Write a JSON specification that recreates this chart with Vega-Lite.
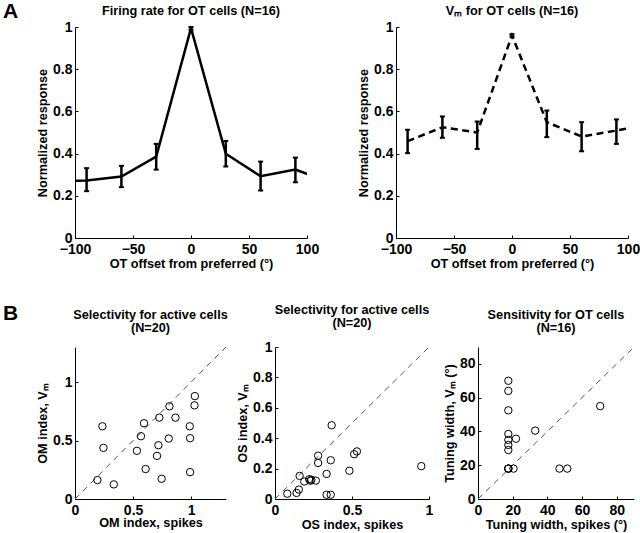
{
  "$schema": "https://vega.github.io/schema/vega-lite/v6.json",
  "padding": {"left": 3, "top": 1, "right": 5, "bottom": 5},
  "background": "white",
  "config": {
    "font": "Liberation Sans",
    "view": {"stroke": null},
    "axis": {
      "grid": false, "domainColor": "black", "domainWidth": 1,
      "tickColor": "black", "tickSize": -3, "tickWidth": 1,
      "labelFont": "Liberation Sans", "labelFontSize": 14, "labelFontWeight": "bold", "labelColor": "black", "labelPadding": 7,
      "labelOverlap": false, "labelFlush": false, "labelBound": false, "labelSeparation": -30,
      "titleFont": "Liberation Sans", "titleFontSize": 12.7, "titleFontWeight": "bold", "titleColor": "black", "titlePadding": 3
    },
    "axisX": {"labelPadding": 7, "titlePadding": 1},
    "axisY": {"labelPadding": 6},
    "title": {"font": "Liberation Sans", "fontSize": 12.7, "fontWeight": "bold", "color": "black", "offset": 2}
  },
  "datasets": {
    "frLine": [
      {"x": -120, "y": 0.27}, {"x": -90, "y": 0.272}, {"x": -60, "y": 0.291}, {"x": -30, "y": 0.386},
      {"x": 0, "y": 0.995}, {"x": 30, "y": 0.399}, {"x": 60, "y": 0.293}, {"x": 90, "y": 0.324}, {"x": 120, "y": 0.264}
    ],
    "frErr": [
      {"x": -90, "lo": 0.222, "hi": 0.331}, {"x": -60, "lo": 0.241, "hi": 0.342}, {"x": -30, "lo": 0.324, "hi": 0.446},
      {"x": 0, "lo": 0.987, "hi": 1.0}, {"x": 30, "lo": 0.339, "hi": 0.46}, {"x": 60, "lo": 0.225, "hi": 0.362},
      {"x": 90, "lo": 0.264, "hi": 0.381}
    ],
    "vmLine": [
      {"x": -90, "y": 0.459}, {"x": -60, "y": 0.525}, {"x": -30, "y": 0.5}, {"x": 0, "y": 0.96},
      {"x": 30, "y": 0.549}, {"x": 60, "y": 0.481}, {"x": 90, "y": 0.509}, {"x": 120, "y": 0.54}
    ],
    "vmErr": [
      {"x": -90, "lo": 0.402, "hi": 0.513}, {"x": -60, "lo": 0.475, "hi": 0.576}, {"x": -30, "lo": 0.422, "hi": 0.552},
      {"x": 0, "lo": 0.955, "hi": 0.966}, {"x": 30, "lo": 0.478, "hi": 0.604}, {"x": 60, "lo": 0.411, "hi": 0.549},
      {"x": 90, "lo": 0.446, "hi": 0.562}
    ],
    "om": [
      {"x": 0.236, "y": 0.622}, {"x": 0.245, "y": 0.437}, {"x": 0.193, "y": 0.162}, {"x": 0.334, "y": 0.125},
      {"x": 0.594, "y": 0.648}, {"x": 0.568, "y": 0.537}, {"x": 0.533, "y": 0.412}, {"x": 0.608, "y": 0.256},
      {"x": 0.726, "y": 0.696}, {"x": 0.718, "y": 0.46}, {"x": 0.706, "y": 0.369}, {"x": 0.746, "y": 0.173},
      {"x": 0.813, "y": 0.793}, {"x": 0.807, "y": 0.517}, {"x": 0.865, "y": 0.696}, {"x": 0.988, "y": 0.622},
      {"x": 0.991, "y": 0.52}, {"x": 0.991, "y": 0.23}, {"x": 1.032, "y": 0.88}, {"x": 1.029, "y": 0.801}
    ],
    "os": [
      {"x": 0.08, "y": 0.035}, {"x": 0.14, "y": 0.04}, {"x": 0.155, "y": 0.062}, {"x": 0.16, "y": 0.152},
      {"x": 0.19, "y": 0.115}, {"x": 0.222, "y": 0.13}, {"x": 0.236, "y": 0.127}, {"x": 0.265, "y": 0.121},
      {"x": 0.28, "y": 0.285}, {"x": 0.28, "y": 0.237}, {"x": 0.335, "y": 0.165}, {"x": 0.335, "y": 0.028},
      {"x": 0.362, "y": 0.255}, {"x": 0.368, "y": 0.485}, {"x": 0.362, "y": 0.028}, {"x": 0.483, "y": 0.186},
      {"x": 0.514, "y": 0.295}, {"x": 0.532, "y": 0.313}, {"x": 0.95, "y": 0.216}, {"x": 0.23, "y": 0.12}
    ],
    "tw": [
      {"x": 17.5, "y": 70}, {"x": 17.5, "y": 64}, {"x": 17.5, "y": 52.5}, {"x": 17.5, "y": 38.5},
      {"x": 17.5, "y": 35}, {"x": 17.5, "y": 32}, {"x": 17.5, "y": 29}, {"x": 17.5, "y": 18},
      {"x": 17.5, "y": 18}, {"x": 17.5, "y": 18}, {"x": 20.5, "y": 18}, {"x": 21.9, "y": 35.7},
      {"x": 33, "y": 40.5}, {"x": 47, "y": 18}, {"x": 51.5, "y": 18}, {"x": 70.5, "y": 55}
    ]
  },
  "bounds": "flush",
  "spacing": 320,
  "vconcat": [
    {
      "title": {"text": "A", "anchor": "start", "frame": "group", "fontSize": 21, "dx": -72, "dy": 17, "offset": 0},
      "bounds": "flush",
      "spacing": 89,
      "hconcat": [
        {
          "width": 232, "height": 211,
          "title": {"text": "Firing rate for OT cells (N=16)"},
          "layer": [
            {
              "data": {"name": "frLine"},
              "mark": {"type": "line", "color": "black", "strokeWidth": 2.5, "clip": true},
              "encoding": {
                "x": {"field": "x", "type": "quantitative", "scale": {"domain": [-100, 100]}, "axis": {"values": [-100, -50, 0, 50, 100], "labelOverlap": false, "title": "OT offset from preferred (°)"}},
                "y": {"field": "y", "type": "quantitative", "scale": {"domain": [0, 1]}, "axis": {"values": [0, 0.2, 0.4, 0.6, 0.8, 1], "labelOverlap": false, "format": "~g", "title": "Normalized response"}}
              }
            },
            {
              "data": {"name": "frErr"},
              "mark": {"type": "rule", "color": "black", "strokeWidth": 2.5},
              "encoding": {
                "x": {"field": "x", "type": "quantitative"},
                "y": {"field": "lo", "type": "quantitative"},
                "y2": {"field": "hi"}
              }
            },
            {
              "data": {"name": "frErr"},
              "mark": {"type": "tick", "color": "black", "size": 5, "thickness": 2, "orient": "horizontal", "opacity": 1},
              "encoding": {"x": {"field": "x", "type": "quantitative"}, "y": {"field": "lo", "type": "quantitative"}}
            },
            {
              "data": {"name": "frErr"},
              "mark": {"type": "tick", "color": "black", "size": 5, "thickness": 2, "orient": "horizontal", "opacity": 1},
              "encoding": {"x": {"field": "x", "type": "quantitative"}, "y": {"field": "hi", "type": "quantitative"}}
            }
          ]
        },
        {
          "width": 232, "height": 211,
          "title": {"text": "Vₘ for OT cells (N=16)"},
          "layer": [
            {
              "data": {"name": "vmLine"},
              "mark": {"type": "line", "color": "black", "strokeWidth": 2.5, "strokeDash": [7, 4.5], "clip": true},
              "encoding": {
                "x": {"field": "x", "type": "quantitative", "scale": {"domain": [-100, 100]}, "axis": {"values": [-100, -50, 0, 50, 100], "labelOverlap": false, "title": "OT offset from preferred (°)"}},
                "y": {"field": "y", "type": "quantitative", "scale": {"domain": [0, 1]}, "axis": {"values": [0, 0.2, 0.4, 0.6, 0.8, 1], "labelOverlap": false, "format": "~g", "title": "Normalized response"}}
              }
            },
            {
              "data": {"name": "vmErr"},
              "mark": {"type": "rule", "color": "black", "strokeWidth": 2.5},
              "encoding": {
                "x": {"field": "x", "type": "quantitative"},
                "y": {"field": "lo", "type": "quantitative"},
                "y2": {"field": "hi"}
              }
            },
            {
              "data": {"name": "vmErr"},
              "mark": {"type": "tick", "color": "black", "size": 5, "thickness": 2, "orient": "horizontal", "opacity": 1},
              "encoding": {"x": {"field": "x", "type": "quantitative"}, "y": {"field": "lo", "type": "quantitative"}}
            },
            {
              "data": {"name": "vmErr"},
              "mark": {"type": "tick", "color": "black", "size": 5, "thickness": 2, "orient": "horizontal", "opacity": 1},
              "encoding": {"x": {"field": "x", "type": "quantitative"}, "y": {"field": "hi", "type": "quantitative"}}
            }
          ]
        }
      ]
    },
    {
      "title": {"text": "B", "anchor": "start", "frame": "group", "fontSize": 21, "dx": -72, "dy": 20, "offset": 0},
      "bounds": "flush",
      "spacing": 49,
      "hconcat": [
        {
          "width": 151, "height": 152,
          "title": {"text": ["Selectivity for active cells", "(N=20)"], "lineHeight": 13, "offset": 10},
          "encoding": {
            "x": {"field": "x", "type": "quantitative", "scale": {"domain": [0, 1.3]}, "axis": {"values": [0, 0.5, 1], "labelOverlap": false, "format": "~g", "title": "OM index, spikes", "titlePadding": -1}},
            "y": {"field": "y", "type": "quantitative", "scale": {"domain": [0, 1.3]}, "axis": {"values": [0, 0.5, 1], "labelOverlap": false, "format": "~g", "title": "OM index, Vₘ"}}
          },
          "layer": [
            {
              "data": {"values": [{"x": 0, "y": 0}, {"x": 1.3, "y": 1.3}]},
              "mark": {"type": "line", "color": "#555555", "strokeWidth": 1, "strokeDash": [6, 5]}
            },
            {
              "data": {"name": "om"},
              "mark": {"type": "point", "shape": "circle", "filled": false, "stroke": "black", "strokeWidth": 1, "size": 55, "opacity": 1}
            }
          ]
        },
        {
          "width": 154, "height": 152,
          "title": {"text": ["Selectivity for active cells", "(N=20)"], "lineHeight": 13, "offset": 10},
          "encoding": {
            "x": {"field": "x", "type": "quantitative", "scale": {"domain": [0, 1]}, "axis": {"values": [0, 0.5, 1], "labelOverlap": false, "format": "~g", "title": "OS index, spikes"}},
            "y": {"field": "y", "type": "quantitative", "scale": {"domain": [0, 1]}, "axis": {"values": [0, 0.2, 0.4, 0.6, 0.8, 1], "labelOverlap": false, "format": "~g", "title": "OS index, Vₘ"}}
          },
          "layer": [
            {
              "data": {"values": [{"x": 0, "y": 0}, {"x": 1, "y": 1}]},
              "mark": {"type": "line", "color": "#555555", "strokeWidth": 1, "strokeDash": [6, 5]}
            },
            {
              "data": {"name": "os"},
              "mark": {"type": "point", "shape": "circle", "filled": false, "stroke": "black", "strokeWidth": 1, "size": 55, "opacity": 1}
            }
          ]
        },
        {
          "width": 156, "height": 152,
          "title": {"text": ["Sensitivity for OT cells", "(N=16)"], "lineHeight": 13, "offset": 10},
          "encoding": {
            "x": {"field": "x", "type": "quantitative", "scale": {"domain": [0, 90]}, "axis": {"values": [0, 20, 40, 60, 80], "labelOverlap": false, "title": "Tuning width, spikes (°)"}},
            "y": {"field": "y", "type": "quantitative", "scale": {"domain": [0, 90]}, "axis": {"values": [0, 20, 40, 60, 80], "labelOverlap": false, "title": "Tuning width, Vₘ (°)"}}
          },
          "layer": [
            {
              "data": {"values": [{"x": 0, "y": 0}, {"x": 90, "y": 90}]},
              "mark": {"type": "line", "color": "#555555", "strokeWidth": 1, "strokeDash": [6, 5]}
            },
            {
              "data": {"name": "tw"},
              "mark": {"type": "point", "shape": "circle", "filled": false, "stroke": "black", "strokeWidth": 1, "size": 55, "opacity": 1}
            }
          ]
        }
      ]
    }
  ]
}
